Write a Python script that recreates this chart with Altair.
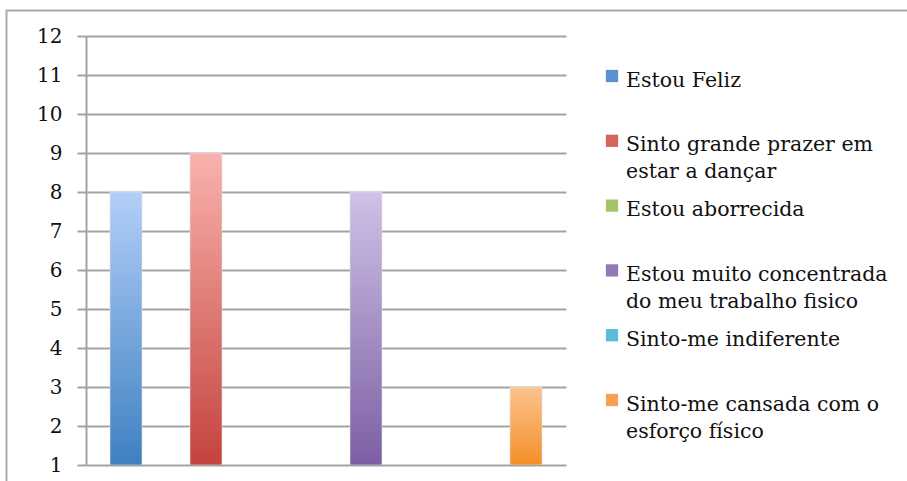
import altair as alt
import pandas as pd

# ---- data ----
categories = [
    "Estou Feliz",
    "Sinto grande prazer em estar a dançar",
    "Estou aborrecida",
    "Estou muito concentrada do meu trabalho fisico",
    "Sinto-me indiferente",
    "Sinto-me cansada com o esforço físico",
]
legend_labels = [
    "Estou Feliz",
    "Sinto grande prazer em\nestar a dançar",
    "Estou aborrecida",
    "Estou muito concentrada\ndo meu trabalho fisico",
    "Sinto-me indiferente",
    "Sinto-me cansada com o\nesforço físico",
]
values = [8, 9, 0, 8, 0, 3]
y_ticks = list(range(1, 13))

# colours (light top, dark bottom) and legend swatch colours
top_colors = ["#b2cff8", "#f9b2ad", "#c9e3a8", "#cfc1e7", "#a8dcec", "#fcc38e"]
bottom_colors = ["#3f80c2", "#c4433d", "#8fb04f", "#7c5fa3", "#3ea5c3", "#f48f28"]
swatch_colors = ["#5b8fd0", "#d9625d", "#a4c46a", "#9179b7", "#5bbcd6", "#f7a054"]

FONT = "DejaVu Serif"
GRID = "#a3a3a3"

df = pd.DataFrame({"cat": categories, "value": values, "label": legend_labels})

x_scale = alt.Scale(domain=categories, paddingInner=0.6, paddingOuter=0.3)
y_scale = alt.Scale(domain=[1, 12], zero=False, nice=False)
y_axis = alt.Axis(
    values=y_ticks,
    grid=True,
    gridColor=GRID,
    gridWidth=2,
    domain=True,
    domainColor=GRID,
    domainWidth=2,
    ticks=True,
    tickSize=9,
    tickColor=GRID,
    tickWidth=2,
    labelFont=FONT,
    labelFontSize=20,
    labelColor="#111111",
    labelPadding=15,
    format="d",
)

# axis/grid layer
axis_layer = alt.Chart(df).mark_bar(opacity=0).encode(
    x=alt.X("cat:N", scale=x_scale, axis=None, sort=categories),
    y=alt.Y("value:Q", scale=y_scale, title=None, axis=y_axis),
)

layers = [axis_layer]
for i, c in enumerate(categories):
    grad = alt.Gradient(
        gradient="linear",
        x1=0, x2=0, y1=0, y2=1,
        stops=[
            alt.GradientStop(color=top_colors[i], offset=0),
            alt.GradientStop(color=bottom_colors[i], offset=1),
        ],
    )
    layers.append(
        alt.Chart(df)
        .transform_filter((alt.datum.cat == c) & (alt.datum.value > 1))
        .mark_bar(color=grad, clip=True, stroke="#e4e4e4", strokeWidth=1, strokeOpacity=0.6)
        .encode(
            x=alt.X("cat:N", scale=x_scale, axis=None, sort=categories),
            y=alt.Y("value:Q", scale=y_scale, title=None, axis=y_axis),
            y2=alt.datum(1),
        )
    )

bars = alt.layer(*layers)

# custom legend
leg_y = alt.Y("cat:N", scale=alt.Scale(domain=categories, range=[40, 364], padding=0), axis=None)
swatches = alt.Chart(df).mark_square(size=150, opacity=1).encode(
    x=alt.value(526),
    y=leg_y,
    color=alt.Color("cat:N", scale=alt.Scale(domain=categories, range=swatch_colors), legend=None),
)
texts = alt.Chart(df).mark_text(
    align="left", baseline="alphabetic", dy=10.5, lineBreak="\n", lineHeight=27,
    font=FONT, fontSize=20.5, color="#111111",
).encode(
    x=alt.value(540),
    y=leg_y,
    text="label:N",
)
legend = alt.layer(swatches, texts)

# outer frame
one = pd.DataFrame({"a": [0]})
frame_left = alt.Chart(one).mark_rule(color="#ababab", strokeWidth=2).encode(
    x=alt.value(-79.5), y=alt.value(-26), y2=alt.value(445)
)
frame_top = alt.Chart(one).mark_rule(color="#ababab", strokeWidth=2).encode(
    x=alt.value(-80), x2=alt.value(821), y=alt.value(-25.5)
)

chart = (
    alt.layer(frame_left, frame_top, bars, legend)
    .resolve_scale(y="independent", color="independent")
    .properties(
        width=480,
        height=429,
        autosize=alt.AutoSizeParams(type="none"),
        padding={"left": 86, "top": 36, "right": 341, "bottom": 16},
        background="white",
    )
    .configure_view(strokeWidth=0)
)

chart.save("out.html", embed_options={"renderer": "svg", "actions": False})
